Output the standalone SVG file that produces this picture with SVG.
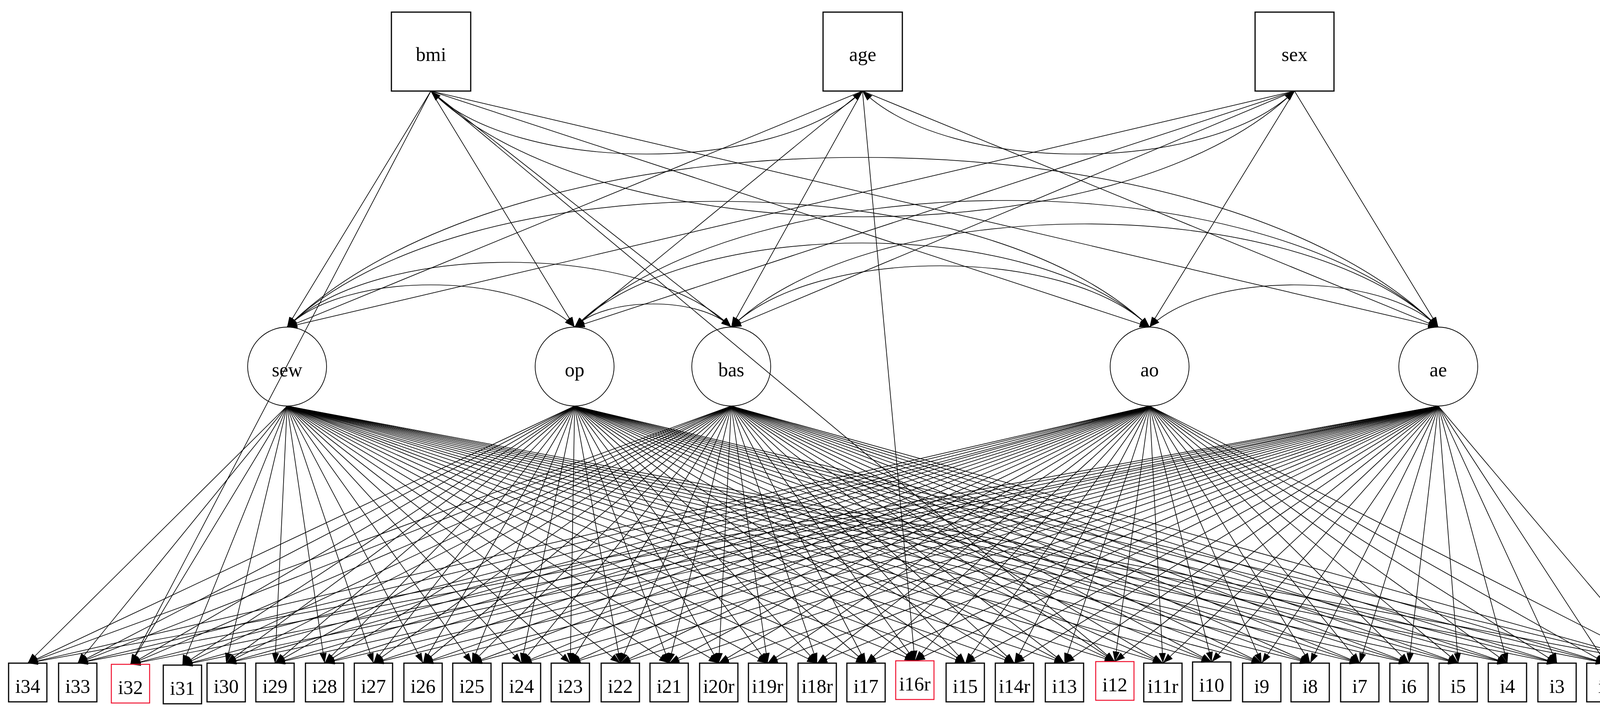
<svg xmlns="http://www.w3.org/2000/svg" width="4320" height="1822" viewBox="0 0 4320 1822">
<style>
.bg{fill:#fff}
.box{fill:none;stroke:#000;stroke-width:3}
.red{fill:none;stroke:#f0102e;stroke-width:2.5}
.lat{fill:none;stroke:#000;stroke-width:1.8}
.lbl{font-family:"Liberation Serif","Times New Roman",serif;font-size:50px;text-anchor:middle;fill:#000}
.e line,.e path{stroke:#000;stroke-width:1.7;fill:none;marker-end:url(#ah)}
.e .both{marker-start:url(#ah)}
</style>
<defs>
<marker id="ah" viewBox="0 0 10 10" refX="10" refY="5" markerUnits="userSpaceOnUse" markerWidth="26" markerHeight="18" preserveAspectRatio="none" orient="auto-start-reverse"><path d="M0,0L10,5L0,10z" fill="#000"/></marker>
</defs>
<rect class="bg" x="0" y="0" width="4320" height="1822"/>
<g id="edges" class="e">
<g id="load-sew">
<line x1="735" y1="1039" x2="71" y2="1697"/><line x1="735" y1="1039" x2="199" y2="1697"/><line x1="735" y1="1039" x2="334" y2="1700"/><line x1="735" y1="1039" x2="467" y2="1702"/><line x1="735" y1="1039" x2="579" y2="1697"/><line x1="735" y1="1039" x2="704" y2="1697"/><line x1="735" y1="1039" x2="831" y2="1697"/><line x1="735" y1="1039" x2="956" y2="1697"/><line x1="735" y1="1039" x2="1083" y2="1697"/><line x1="735" y1="1039" x2="1208" y2="1697"/><line x1="735" y1="1039" x2="1335" y2="1697"/><line x1="735" y1="1039" x2="1460" y2="1697"/><line x1="735" y1="1039" x2="1588" y2="1697"/><line x1="735" y1="1039" x2="1713" y2="1697"/><line x1="735" y1="1039" x2="1840" y2="1697"/><line x1="735" y1="1039" x2="1965" y2="1697"/><line x1="735" y1="1039" x2="2092" y2="1697"/><line x1="735" y1="1039" x2="2217" y2="1697"/><line x1="735" y1="1039" x2="2342" y2="1691"/><line x1="735" y1="1039" x2="2471" y2="1697"/><line x1="735" y1="1039" x2="2597" y2="1697"/><line x1="735" y1="1039" x2="2725" y2="1697"/><line x1="735" y1="1039" x2="2854" y2="1693"/><line x1="735" y1="1039" x2="2977" y2="1697"/><line x1="735" y1="1039" x2="3102" y2="1694"/><line x1="735" y1="1039" x2="3230" y2="1697"/><line x1="735" y1="1039" x2="3354" y2="1697"/><line x1="735" y1="1039" x2="3481" y2="1697"/><line x1="735" y1="1039" x2="3607" y2="1697"/><line x1="735" y1="1039" x2="3733" y2="1697"/><line x1="735" y1="1039" x2="3859" y2="1697"/><line x1="735" y1="1039" x2="3986" y2="1697"/><line x1="735" y1="1039" x2="4111" y2="1697"/><line x1="735" y1="1039" x2="4238" y2="1697"/>
</g>
<g id="load-op">
<line x1="1471" y1="1039" x2="71" y2="1697"/><line x1="1471" y1="1039" x2="199" y2="1697"/><line x1="1471" y1="1039" x2="334" y2="1700"/><line x1="1471" y1="1039" x2="467" y2="1702"/><line x1="1471" y1="1039" x2="579" y2="1697"/><line x1="1471" y1="1039" x2="704" y2="1697"/><line x1="1471" y1="1039" x2="831" y2="1697"/><line x1="1471" y1="1039" x2="956" y2="1697"/><line x1="1471" y1="1039" x2="1083" y2="1697"/><line x1="1471" y1="1039" x2="1208" y2="1697"/><line x1="1471" y1="1039" x2="1335" y2="1697"/><line x1="1471" y1="1039" x2="1460" y2="1697"/><line x1="1471" y1="1039" x2="1588" y2="1697"/><line x1="1471" y1="1039" x2="1713" y2="1697"/><line x1="1471" y1="1039" x2="1840" y2="1697"/><line x1="1471" y1="1039" x2="1965" y2="1697"/><line x1="1471" y1="1039" x2="2092" y2="1697"/><line x1="1471" y1="1039" x2="2217" y2="1697"/><line x1="1471" y1="1039" x2="2342" y2="1691"/><line x1="1471" y1="1039" x2="2471" y2="1697"/><line x1="1471" y1="1039" x2="2597" y2="1697"/><line x1="1471" y1="1039" x2="2725" y2="1697"/><line x1="1471" y1="1039" x2="2854" y2="1693"/><line x1="1471" y1="1039" x2="2977" y2="1697"/><line x1="1471" y1="1039" x2="3102" y2="1694"/><line x1="1471" y1="1039" x2="3230" y2="1697"/><line x1="1471" y1="1039" x2="3354" y2="1697"/><line x1="1471" y1="1039" x2="3481" y2="1697"/><line x1="1471" y1="1039" x2="3607" y2="1697"/><line x1="1471" y1="1039" x2="3733" y2="1697"/><line x1="1471" y1="1039" x2="3859" y2="1697"/><line x1="1471" y1="1039" x2="3986" y2="1697"/><line x1="1471" y1="1039" x2="4111" y2="1697"/><line x1="1471" y1="1039" x2="4238" y2="1697"/>
</g>
<g id="load-bas">
<line x1="1872" y1="1039" x2="71" y2="1697"/><line x1="1872" y1="1039" x2="199" y2="1697"/><line x1="1872" y1="1039" x2="334" y2="1700"/><line x1="1872" y1="1039" x2="467" y2="1702"/><line x1="1872" y1="1039" x2="579" y2="1697"/><line x1="1872" y1="1039" x2="704" y2="1697"/><line x1="1872" y1="1039" x2="831" y2="1697"/><line x1="1872" y1="1039" x2="956" y2="1697"/><line x1="1872" y1="1039" x2="1083" y2="1697"/><line x1="1872" y1="1039" x2="1208" y2="1697"/><line x1="1872" y1="1039" x2="1335" y2="1697"/><line x1="1872" y1="1039" x2="1460" y2="1697"/><line x1="1872" y1="1039" x2="1588" y2="1697"/><line x1="1872" y1="1039" x2="1713" y2="1697"/><line x1="1872" y1="1039" x2="1840" y2="1697"/><line x1="1872" y1="1039" x2="1965" y2="1697"/><line x1="1872" y1="1039" x2="2092" y2="1697"/><line x1="1872" y1="1039" x2="2217" y2="1697"/><line x1="1872" y1="1039" x2="2342" y2="1691"/><line x1="1872" y1="1039" x2="2471" y2="1697"/><line x1="1872" y1="1039" x2="2597" y2="1697"/><line x1="1872" y1="1039" x2="2725" y2="1697"/><line x1="1872" y1="1039" x2="2854" y2="1693"/><line x1="1872" y1="1039" x2="2977" y2="1697"/><line x1="1872" y1="1039" x2="3102" y2="1694"/><line x1="1872" y1="1039" x2="3230" y2="1697"/><line x1="1872" y1="1039" x2="3354" y2="1697"/><line x1="1872" y1="1039" x2="3481" y2="1697"/><line x1="1872" y1="1039" x2="3607" y2="1697"/><line x1="1872" y1="1039" x2="3733" y2="1697"/><line x1="1872" y1="1039" x2="3859" y2="1697"/><line x1="1872" y1="1039" x2="3986" y2="1697"/><line x1="1872" y1="1039" x2="4111" y2="1697"/><line x1="1872" y1="1039" x2="4238" y2="1697"/>
</g>
<g id="load-ao">
<line x1="2943" y1="1039" x2="71" y2="1697"/><line x1="2943" y1="1039" x2="199" y2="1697"/><line x1="2943" y1="1039" x2="334" y2="1700"/><line x1="2943" y1="1039" x2="467" y2="1702"/><line x1="2943" y1="1039" x2="579" y2="1697"/><line x1="2943" y1="1039" x2="704" y2="1697"/><line x1="2943" y1="1039" x2="831" y2="1697"/><line x1="2943" y1="1039" x2="956" y2="1697"/><line x1="2943" y1="1039" x2="1083" y2="1697"/><line x1="2943" y1="1039" x2="1208" y2="1697"/><line x1="2943" y1="1039" x2="1335" y2="1697"/><line x1="2943" y1="1039" x2="1460" y2="1697"/><line x1="2943" y1="1039" x2="1588" y2="1697"/><line x1="2943" y1="1039" x2="1713" y2="1697"/><line x1="2943" y1="1039" x2="1840" y2="1697"/><line x1="2943" y1="1039" x2="1965" y2="1697"/><line x1="2943" y1="1039" x2="2092" y2="1697"/><line x1="2943" y1="1039" x2="2217" y2="1697"/><line x1="2943" y1="1039" x2="2342" y2="1691"/><line x1="2943" y1="1039" x2="2471" y2="1697"/><line x1="2943" y1="1039" x2="2597" y2="1697"/><line x1="2943" y1="1039" x2="2725" y2="1697"/><line x1="2943" y1="1039" x2="2854" y2="1693"/><line x1="2943" y1="1039" x2="2977" y2="1697"/><line x1="2943" y1="1039" x2="3102" y2="1694"/><line x1="2943" y1="1039" x2="3230" y2="1697"/><line x1="2943" y1="1039" x2="3354" y2="1697"/><line x1="2943" y1="1039" x2="3481" y2="1697"/><line x1="2943" y1="1039" x2="3607" y2="1697"/><line x1="2943" y1="1039" x2="3733" y2="1697"/><line x1="2943" y1="1039" x2="3859" y2="1697"/><line x1="2943" y1="1039" x2="3986" y2="1697"/><line x1="2943" y1="1039" x2="4111" y2="1697"/><line x1="2943" y1="1039" x2="4238" y2="1697"/>
</g>
<g id="load-ae">
<line x1="3682" y1="1039" x2="71" y2="1697"/><line x1="3682" y1="1039" x2="199" y2="1697"/><line x1="3682" y1="1039" x2="334" y2="1700"/><line x1="3682" y1="1039" x2="467" y2="1702"/><line x1="3682" y1="1039" x2="579" y2="1697"/><line x1="3682" y1="1039" x2="704" y2="1697"/><line x1="3682" y1="1039" x2="831" y2="1697"/><line x1="3682" y1="1039" x2="956" y2="1697"/><line x1="3682" y1="1039" x2="1083" y2="1697"/><line x1="3682" y1="1039" x2="1208" y2="1697"/><line x1="3682" y1="1039" x2="1335" y2="1697"/><line x1="3682" y1="1039" x2="1460" y2="1697"/><line x1="3682" y1="1039" x2="1588" y2="1697"/><line x1="3682" y1="1039" x2="1713" y2="1697"/><line x1="3682" y1="1039" x2="1840" y2="1697"/><line x1="3682" y1="1039" x2="1965" y2="1697"/><line x1="3682" y1="1039" x2="2092" y2="1697"/><line x1="3682" y1="1039" x2="2217" y2="1697"/><line x1="3682" y1="1039" x2="2342" y2="1691"/><line x1="3682" y1="1039" x2="2471" y2="1697"/><line x1="3682" y1="1039" x2="2597" y2="1697"/><line x1="3682" y1="1039" x2="2725" y2="1697"/><line x1="3682" y1="1039" x2="2854" y2="1693"/><line x1="3682" y1="1039" x2="2977" y2="1697"/><line x1="3682" y1="1039" x2="3102" y2="1694"/><line x1="3682" y1="1039" x2="3230" y2="1697"/><line x1="3682" y1="1039" x2="3354" y2="1697"/><line x1="3682" y1="1039" x2="3481" y2="1697"/><line x1="3682" y1="1039" x2="3607" y2="1697"/><line x1="3682" y1="1039" x2="3733" y2="1697"/><line x1="3682" y1="1039" x2="3859" y2="1697"/><line x1="3682" y1="1039" x2="3986" y2="1697"/><line x1="3682" y1="1039" x2="4111" y2="1697"/><line x1="3682" y1="1039" x2="4238" y2="1697"/>
</g>
<g id="regressions">
<line x1="1103" y1="233" x2="735" y2="837"/>
<line x1="1103" y1="233" x2="1471" y2="837"/>
<line x1="1103" y1="233" x2="1872" y2="837"/>
<line x1="1103" y1="233" x2="2943" y2="837"/>
<line x1="1103" y1="233" x2="3682" y2="837"/>
<line x1="2208" y1="233" x2="735" y2="837"/>
<line x1="2208" y1="233" x2="1471" y2="837"/>
<line x1="2208" y1="233" x2="1872" y2="837"/>
<line x1="2208" y1="233" x2="3682" y2="837"/>
<line x1="3314" y1="233" x2="735" y2="837"/>
<line x1="3314" y1="233" x2="1471" y2="837"/>
<line x1="3314" y1="233" x2="1872" y2="837"/>
<line x1="3314" y1="233" x2="2943" y2="837"/>
<line x1="3314" y1="233" x2="3682" y2="837"/>
<line x1="1103" y1="233" x2="334" y2="1700"/>
<line x1="1103" y1="233" x2="2854" y2="1693"/>
<line x1="2208" y1="233" x2="2342" y2="1691"/>
</g>
<g id="covariances">
<path class="both" d="M1103,233 C1324,448 1987,448 2208,233"/>
<path class="both" d="M2208,233 C2429,448 3093,448 3314,233"/>
<path class="both" d="M1103,233 C1545,662 2872,662 3314,233"/>
<path class="both" d="M735,837 C882,693 1324,693 1471,837"/>
<path class="both" d="M735,837 C962,616 1645,616 1872,837"/>
<path class="both" d="M735,837 C1177,408 2501,408 2943,837"/>
<path class="both" d="M735,837 C1324,258 3093,258 3682,837"/>
<path class="both" d="M1471,837 C1551,758 1792,758 1872,837"/>
<path class="both" d="M1471,837 C1765,550 2649,550 2943,837"/>
<path class="both" d="M1471,837 C1913,405 3240,405 3682,837"/>
<path class="both" d="M1872,837 C2086,628 2729,628 2943,837"/>
<path class="both" d="M1872,837 C2234,485 3320,485 3682,837"/>
<path class="both" d="M2943,837 C3091,693 3534,693 3682,837"/>
</g>
</g>
<g id="bmi"><rect class="box" x="1002" y="31" width="203" height="202"/><text class="lbl" x="1103.5" y="156">bmi</text></g>
<g id="age"><rect class="box" x="2107" y="31" width="203" height="202"/><text class="lbl" x="2208.5" y="156">age</text></g>
<g id="sex"><rect class="box" x="3213" y="31" width="202" height="202"/><text class="lbl" x="3314" y="156">sex</text></g>
<g id="sew"><circle class="lat" cx="735" cy="938" r="101"/><text class="lbl" x="735" y="963">sew</text></g>
<g id="op"><circle class="lat" cx="1471" cy="938" r="101"/><text class="lbl" x="1471" y="963">op</text></g>
<g id="bas"><circle class="lat" cx="1872" cy="938" r="101"/><text class="lbl" x="1872" y="963">bas</text></g>
<g id="ao"><circle class="lat" cx="2943" cy="938" r="101"/><text class="lbl" x="2943" y="963">ao</text></g>
<g id="ae"><circle class="lat" cx="3682" cy="938" r="101"/><text class="lbl" x="3682" y="963">ae</text></g>
<g id="i34"><rect class="box" x="22" y="1697" width="98" height="99"/><text class="lbl" x="71" y="1773">i34</text></g>
<g id="i33"><rect class="box" x="150" y="1697" width="98" height="99"/><text class="lbl" x="199" y="1773">i33</text></g>
<g id="i32"><rect class="red" x="285" y="1700" width="98" height="99"/><text class="lbl" x="334" y="1776">i32</text></g>
<g id="i31"><rect class="box" x="418" y="1702" width="98" height="99"/><text class="lbl" x="467" y="1778">i31</text></g>
<g id="i30"><rect class="box" x="530" y="1697" width="98" height="99"/><text class="lbl" x="579" y="1773">i30</text></g>
<g id="i29"><rect class="box" x="655" y="1697" width="98" height="99"/><text class="lbl" x="704" y="1773">i29</text></g>
<g id="i28"><rect class="box" x="782" y="1697" width="98" height="99"/><text class="lbl" x="831" y="1773">i28</text></g>
<g id="i27"><rect class="box" x="907" y="1697" width="98" height="99"/><text class="lbl" x="956" y="1773">i27</text></g>
<g id="i26"><rect class="box" x="1034" y="1697" width="98" height="99"/><text class="lbl" x="1083" y="1773">i26</text></g>
<g id="i25"><rect class="box" x="1159" y="1697" width="98" height="99"/><text class="lbl" x="1208" y="1773">i25</text></g>
<g id="i24"><rect class="box" x="1286" y="1697" width="98" height="99"/><text class="lbl" x="1335" y="1773">i24</text></g>
<g id="i23"><rect class="box" x="1411" y="1697" width="98" height="99"/><text class="lbl" x="1460" y="1773">i23</text></g>
<g id="i22"><rect class="box" x="1539" y="1697" width="98" height="99"/><text class="lbl" x="1588" y="1773">i22</text></g>
<g id="i21"><rect class="box" x="1664" y="1697" width="98" height="99"/><text class="lbl" x="1713" y="1773">i21</text></g>
<g id="i20r"><rect class="box" x="1791" y="1697" width="98" height="99"/><text class="lbl" x="1840" y="1773">i20r</text></g>
<g id="i19r"><rect class="box" x="1916" y="1697" width="98" height="99"/><text class="lbl" x="1965" y="1773">i19r</text></g>
<g id="i18r"><rect class="box" x="2043" y="1697" width="98" height="99"/><text class="lbl" x="2092" y="1773">i18r</text></g>
<g id="i17"><rect class="box" x="2168" y="1697" width="98" height="99"/><text class="lbl" x="2217" y="1773">i17</text></g>
<g id="i16r"><rect class="red" x="2293" y="1691" width="98" height="99"/><text class="lbl" x="2342" y="1767">i16r</text></g>
<g id="i15"><rect class="box" x="2422" y="1697" width="98" height="99"/><text class="lbl" x="2471" y="1773">i15</text></g>
<g id="i14r"><rect class="box" x="2548" y="1697" width="98" height="99"/><text class="lbl" x="2597" y="1773">i14r</text></g>
<g id="i13"><rect class="box" x="2676" y="1697" width="98" height="99"/><text class="lbl" x="2725" y="1773">i13</text></g>
<g id="i12"><rect class="red" x="2805" y="1693" width="98" height="99"/><text class="lbl" x="2854" y="1769">i12</text></g>
<g id="i11r"><rect class="box" x="2928" y="1697" width="98" height="99"/><text class="lbl" x="2977" y="1773">i11r</text></g>
<g id="i10"><rect class="box" x="3053" y="1694" width="98" height="99"/><text class="lbl" x="3102" y="1770">i10</text></g>
<g id="i9"><rect class="box" x="3181" y="1697" width="98" height="99"/><text class="lbl" x="3230" y="1773">i9</text></g>
<g id="i8"><rect class="box" x="3305" y="1697" width="98" height="99"/><text class="lbl" x="3354" y="1773">i8</text></g>
<g id="i7"><rect class="box" x="3432" y="1697" width="98" height="99"/><text class="lbl" x="3481" y="1773">i7</text></g>
<g id="i6"><rect class="box" x="3558" y="1697" width="98" height="99"/><text class="lbl" x="3607" y="1773">i6</text></g>
<g id="i5"><rect class="box" x="3684" y="1697" width="98" height="99"/><text class="lbl" x="3733" y="1773">i5</text></g>
<g id="i4"><rect class="box" x="3810" y="1697" width="98" height="99"/><text class="lbl" x="3859" y="1773">i4</text></g>
<g id="i3"><rect class="box" x="3937" y="1697" width="98" height="99"/><text class="lbl" x="3986" y="1773">i3</text></g>
<g id="i2"><rect class="box" x="4062" y="1697" width="98" height="99"/><text class="lbl" x="4111" y="1773">i2</text></g>
<g id="i1"><rect class="box" x="4189" y="1697" width="98" height="99"/><text class="lbl" x="4238" y="1773">i1</text></g>
</svg>
